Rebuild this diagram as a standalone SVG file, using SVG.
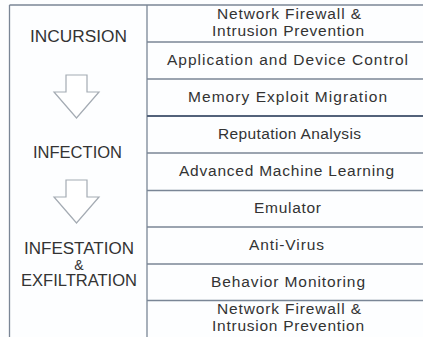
<svg xmlns="http://www.w3.org/2000/svg" width="423" height="337" viewBox="0 0 423 337">
  <style>
    .bg { fill: #fdfeff; }
    .grid { stroke: #7a8696; stroke-width: 1.3; fill: none; }
    .grid-strong { stroke: #53627a; stroke-width: 2; fill: none; }
    .phase { font-family: "Liberation Sans", Arial, sans-serif; font-size: 16px; fill: #333; text-anchor: middle; }
    .amp { font-family: "Liberation Sans", Arial, sans-serif; font-size: 14px; fill: #333; text-anchor: middle; }
    .ctrl { font-family: "Liberation Sans", Arial, sans-serif; font-size: 15.5px; fill: #333; text-anchor: middle; }
    .blockarrow { fill: #ffffff; stroke: #a4abb3; stroke-width: 1.2; stroke-linejoin: miter; }
  </style>
  <rect class="bg" x="0" y="0" width="423" height="337"/>

  <g id="frame">
    <line class="grid" x1="9.5" y1="5" x2="423" y2="5"/>
    <line class="grid" x1="9.5" y1="5" x2="9.5" y2="337"/>
    <line class="grid" x1="147" y1="5" x2="147" y2="337"/>
  </g>

  <g id="phase-incursion">
    <text class="phase" x="78.5" y="42" textLength="97" lengthAdjust="spacingAndGlyphs">INCURSION</text>
  </g>
  <g id="phase-infection">
    <text class="phase" x="77.5" y="158" textLength="89" lengthAdjust="spacingAndGlyphs">INFECTION</text>
  </g>
  <g id="phase-infestation">
    <text class="phase" x="79" y="254" textLength="110" lengthAdjust="spacingAndGlyphs">INFESTATION</text>
    <text class="amp" x="79" y="270">&amp;</text>
    <text class="phase" x="79" y="286" textLength="116" lengthAdjust="spacingAndGlyphs">EXFILTRATION</text>
  </g>

  <g id="connectors">
    <path class="blockarrow" d="M66,75 H87 V92 H99 L76.5,118 L54,92 H66 Z"/>
    <path class="blockarrow" d="M66,180 H87 V197 H99 L76.5,223 L54,197 H66 Z"/>
  </g>

  <g id="row1">
    <text class="ctrl" x="289" y="19" textLength="144" lengthAdjust="spacing">Network Firewall &amp;</text>
    <text class="ctrl" x="288" y="36" textLength="152" lengthAdjust="spacing">Intrusion Prevention</text>
    <line class="grid" x1="147" y1="42" x2="423" y2="42"/>
  </g>
  <g id="row2">
    <text class="ctrl" x="287.5" y="65" textLength="241" lengthAdjust="spacing">Application and Device Control</text>
    <line class="grid" x1="147" y1="79" x2="423" y2="79"/>
  </g>
  <g id="row3">
    <text class="ctrl" x="287.5" y="102" textLength="199" lengthAdjust="spacing">Memory Exploit Migration</text>
    <line class="grid-strong" x1="147" y1="116" x2="423" y2="116"/>
  </g>
  <g id="row4">
    <text class="ctrl" x="289.5" y="139" textLength="143" lengthAdjust="spacing">Reputation Analysis</text>
    <line class="grid" x1="147" y1="153" x2="423" y2="153"/>
  </g>
  <g id="row5">
    <text class="ctrl" x="286.5" y="176" textLength="215" lengthAdjust="spacing">Advanced Machine Learning</text>
    <line class="grid" x1="147" y1="190.5" x2="423" y2="190.5"/>
  </g>
  <g id="row6">
    <text class="ctrl" x="287.5" y="213" textLength="67" lengthAdjust="spacing">Emulator</text>
    <line class="grid" x1="147" y1="227" x2="423" y2="227"/>
  </g>
  <g id="row7">
    <text class="ctrl" x="286.5" y="250" textLength="75" lengthAdjust="spacing">Anti-Virus</text>
    <line class="grid" x1="147" y1="264" x2="423" y2="264"/>
  </g>
  <g id="row8">
    <text class="ctrl" x="288" y="287" textLength="154" lengthAdjust="spacing">Behavior Monitoring</text>
    <line class="grid" x1="147" y1="300.5" x2="423" y2="300.5"/>
  </g>
  <g id="row9">
    <text class="ctrl" x="289" y="314" textLength="144" lengthAdjust="spacing">Network Firewall &amp;</text>
    <text class="ctrl" x="288" y="331" textLength="152" lengthAdjust="spacing">Intrusion Prevention</text>
  </g>
</svg>
